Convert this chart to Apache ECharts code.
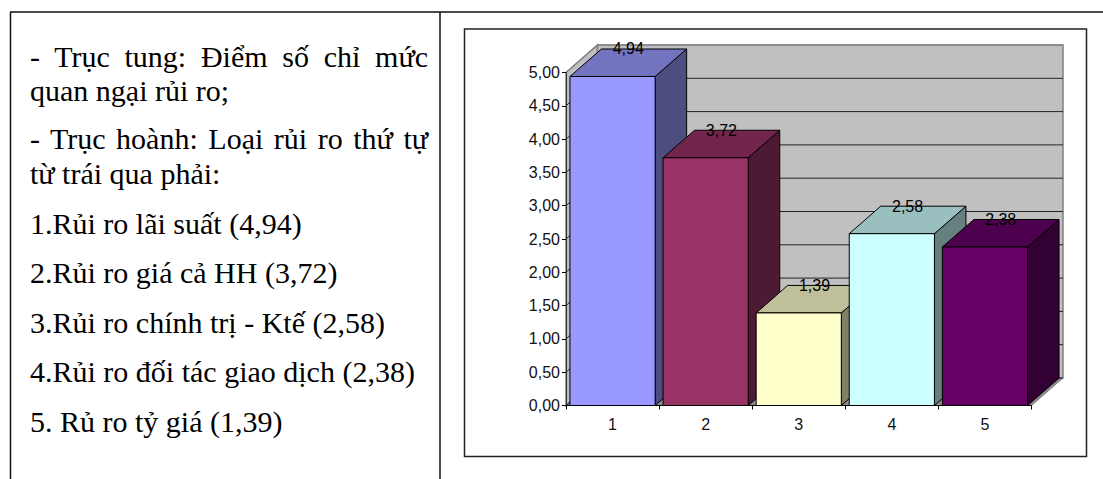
<!DOCTYPE html>
<html>
<head>
<meta charset="utf-8">
<style>
  html, body { margin: 0; padding: 0; background: #fff; overflow: hidden; }
  #chart { position: absolute; left: 0; top: 0; width: 1103px; height: 479px; }
  #notes { position: absolute; left: 30px; top: 0; width: 398px; font: 30px/34px "Liberation Serif", serif; color: #000; }
  #notes div { position: absolute; left: 0; width: 398px; white-space: nowrap; }
  #notes .just { text-align: justify; text-align-last: justify; white-space: normal; }
</style>
</head>
<body>
<div id="chart"></div>
<div id="notes">
  <div class="just" style="top:40px">- Trục tung: Điểm số chỉ mức</div>
  <div style="top:74px">quan ngại rủi ro;</div>
  <div class="just" style="top:122px">- Trục hoành: Loại rủi ro thứ tự</div>
  <div style="top:157px">từ trái qua phải:</div>
  <div style="top:207px">1.Rủi ro lãi suất (4,94)</div>
  <div style="top:256px">2.Rủi ro giá cả HH (3,72)</div>
  <div style="top:306px">3.Rủi ro chính trị - Ktế (2,58)</div>
  <div style="top:355px">4.Rủi ro đối tác giao dịch (2,38)</div>
  <div style="top:405px">5. Rủ ro tỷ giá (1,39)</div>
</div>
<script src="https://cdn.jsdelivr.net/npm/echarts@6/dist/echarts.min.js"></script>
<script>
var categories = ['1', '2', '3', '4', '5'];
var values = [4.94, 3.72, 1.39, 2.58, 2.38];
var gridTicks = [0, 0.5, 1, 1.5, 2, 2.5, 3, 3.5, 4, 4.5, 5];

var fronts = ['#9999ff', '#993366', '#ffffcc', '#ccffff', '#660066'];
var tops = ['#7373bf', '#73264d', '#bfbf99', '#99bfbf', '#4d004d'];
var sides = ['#4d4d80', '#4d1a33', '#808066', '#668080', '#330033'];
var depthX = 31.5;
var depthY = 27.5;
var chartFont = '"Liberation Sans", Arial, sans-serif';

function comma(v) {
  return v.toFixed(2).replace('.', ',');
}

function poly(points, fill, stroke, width) {
  return {
    type: 'polygon',
    shape: { points: points },
    style: { fill: fill, stroke: stroke, lineWidth: width }
  };
}

// back wall, side wall and floor of the 3D box
function renderWalls(params, api) {
  var c = params.coordSys;
  var l = c.x, r = c.x + c.width, t = c.y, b = c.y + c.height;
  return {
    type: 'group',
    children: [
      poly([[l, t], [l + depthX, t - depthY], [l + depthX, b - depthY], [l, b]], '#c0c0c0', '#808080', 1.5),
      poly([[l + depthX, t - depthY], [r + depthX, t - depthY], [r + depthX, b - depthY], [l + depthX, b - depthY]], '#c0c0c0', '#808080', 1.5),
      poly([[l, b], [l + depthX, b - depthY], [r + depthX, b - depthY], [r, b]], '#8c8c8c', '#808080', 1)
    ]
  };
}

function renderGrid(params, api) {
  var c = params.coordSys;
  var v = api.value(1);
  var y = api.coord([0, v])[1];
  return {
    type: 'polyline',
    shape: { points: [[c.x, y], [c.x + depthX, y - depthY], [c.x + c.width + depthX, y - depthY]] },
    style: { fill: 'none', stroke: v === 5 ? '#808080' : '#222', lineWidth: 1 }
  };
}

function renderBar(params, api) {
  var i = params.dataIndex;
  var p = api.coord([api.value(0), api.value(1)]);
  var base = api.coord([api.value(0), 0])[1];
  var w = api.size([1, 0])[0] * 0.915;
  var l = p[0] - w / 2, r = p[0] + w / 2, t = p[1];
  return {
    type: 'group',
    children: [
      poly([[r, t], [r + depthX, t - depthY], [r + depthX, base - depthY], [r, base]], sides[i], '#000', 1),
      poly([[l, t], [l + depthX, t - depthY], [r + depthX, t - depthY], [r, t]], tops[i], '#000', 1),
      poly([[l, t], [r, t], [r, base], [l, base]], fronts[i], '#000', 1),
      {
        type: 'text',
        style: {
          x: p[0] + depthX / 2, y: t - depthY,
          text: comma(values[i]),
          align: 'center', verticalAlign: 'middle',
          fill: '#000', font: '16px ' + chartFont
        }
      }
    ]
  };
}

var chart = echarts.init(document.getElementById('chart'), null, { renderer: 'svg' });
chart.setOption({
  animation: false,
  grid: { left: 566, top: 72.5, width: 465.5, height: 333 },
  graphic: [
    { type: 'rect', silent: true, shape: { x: 464.5, y: 29, width: 622, height: 427.5 }, style: { fill: '#fff', stroke: '#222', lineWidth: 1.5 }, z: 0 },
    { type: 'line', silent: true, shape: { x1: 10, y1: 12, x2: 1103, y2: 12 }, style: { stroke: '#111', lineWidth: 1.5 } },
    { type: 'line', silent: true, shape: { x1: 10.5, y1: 12, x2: 10.5, y2: 479 }, style: { stroke: '#111', lineWidth: 1.5 } },
    { type: 'line', silent: true, shape: { x1: 440, y1: 12, x2: 440, y2: 479 }, style: { stroke: '#111', lineWidth: 1.5 } }
  ],
  xAxis: {
    type: 'category',
    data: categories,
    z: 6,
    axisLine: { lineStyle: { color: '#000', width: 1 } },
    axisTick: { show: true, length: 4, lineStyle: { color: '#000' } },
    axisLabel: { color: '#111', fontSize: 16, fontFamily: chartFont, margin: 11 }
  },
  yAxis: {
    type: 'value',
    min: 0,
    max: 5,
    interval: 0.5,
    z: 6,
    splitLine: { show: false },
    axisLine: { show: true, lineStyle: { color: '#333', width: 1 } },
    axisTick: { show: true, length: 4, lineStyle: { color: '#000' } },
    axisLabel: { color: '#111', fontSize: 16, fontFamily: chartFont, margin: 6, formatter: comma }
  },
  series: [
    { type: 'custom', silent: true, z: 1, clip: false, renderItem: renderWalls, data: [[0, 0]] },
    { type: 'custom', silent: true, z: 2, clip: false, renderItem: renderGrid, data: gridTicks.map(function(t) { return [0, t]; }) },
    { type: 'custom', silent: true, z: 3, clip: false, renderItem: renderBar, data: values.map(function(v, i) { return [i, v]; }) }
  ]
});
window.addEventListener('resize', function() { chart.resize(); });
</script>
</body>
</html>
